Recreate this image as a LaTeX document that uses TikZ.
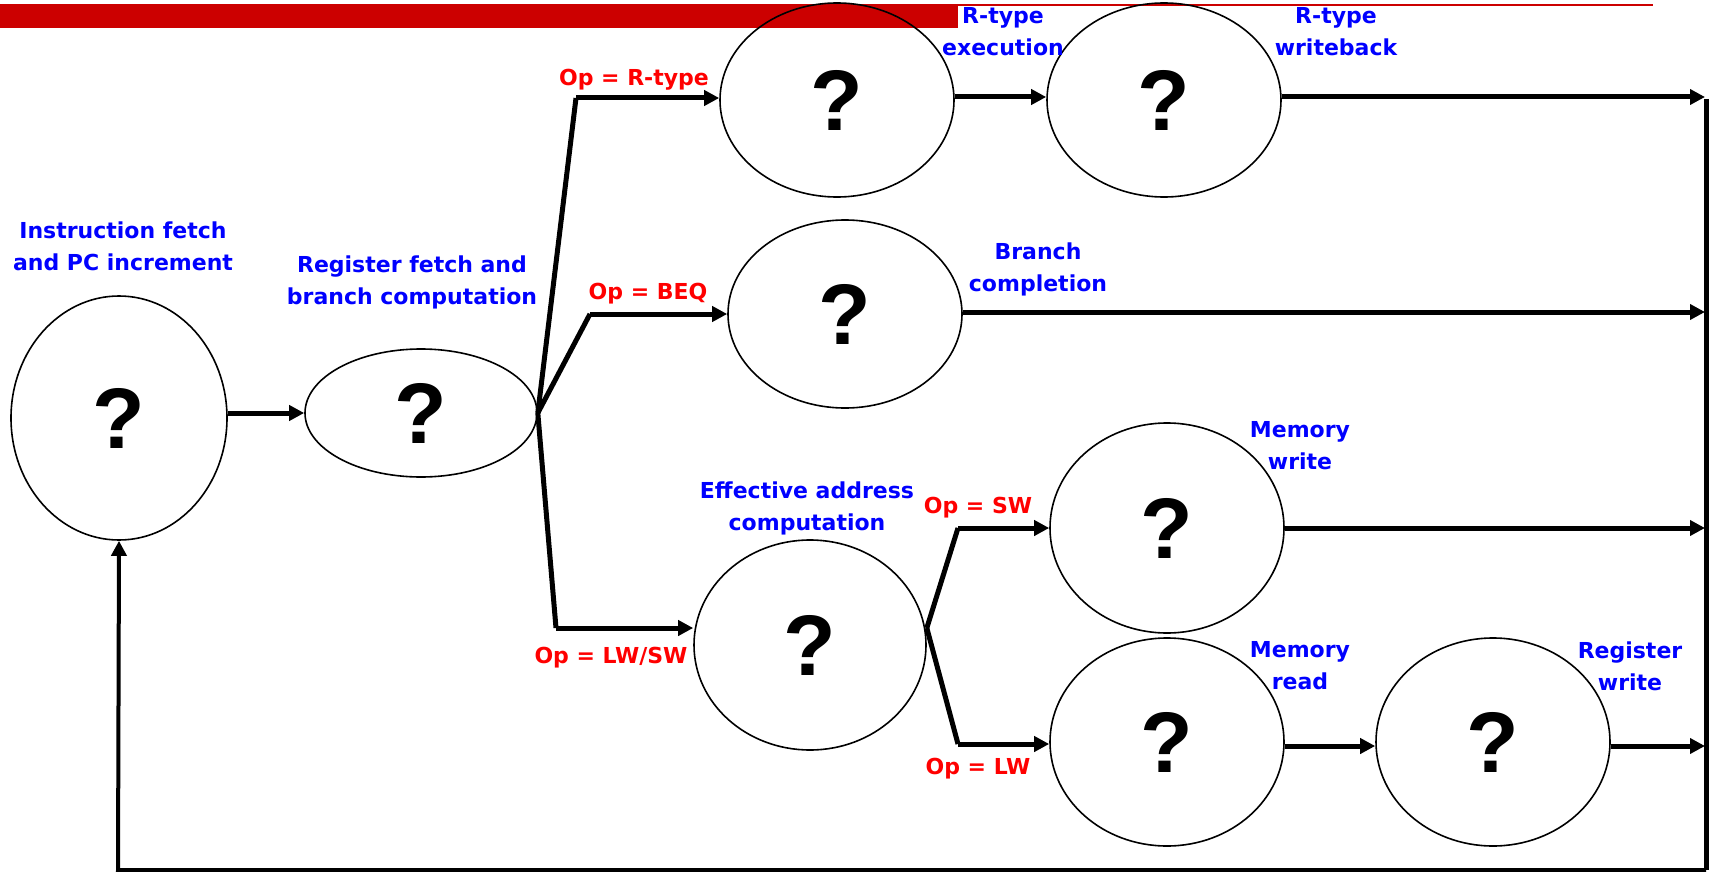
\documentclass[tikz,border=0pt]{standalone}
\usepackage{fontspec}
\setmainfont{DejaVu Sans}
\newfontfamily\qfont{Liberation Sans}
\usetikzlibrary{arrows.meta,shapes.geometric}
\definecolor{barred}{RGB}{204,0,0}
\definecolor{lblue}{RGB}{0,0,255}
\definecolor{lred}{RGB}{255,0,0}
\tikzset{
  state/.style={draw=black,line width=1.6pt,ellipse,inner sep=0pt,
     font=\qfont\bfseries\fontsize{86}{86}\selectfont},
  wire/.style={line width=5pt},
  arr/.style={line width=5pt,-{Triangle[length=15pt,width=15pt]}},
  blab/.style={text=lblue,font=\bfseries\fontsize{22}{32}\selectfont,align=center,inner sep=0pt},
  rlab/.style={text=lred,font=\bfseries\fontsize{22}{26}\selectfont,inner sep=0pt},
}
\begin{document}
\begin{tikzpicture}[x=1pt,y=-1pt]
\useasboundingbox (0,0) rectangle (1710,872);
% header bars
\fill[barred] (0,4) rectangle (958,28);
\fill[barred] (958,4) rectangle (1653,6.5);

% states
\node[state,minimum width=216pt,minimum height=244pt] (e1) at (119,418) {?};
\node[state,minimum width=232pt,minimum height=128pt] (e2) at (421,413) {?};
\node[state,minimum width=234pt,minimum height=194pt] (e3) at (837,100) {?};
\node[state,minimum width=234pt,minimum height=194pt] (e4) at (1164,100) {?};
\node[state,minimum width=234pt,minimum height=188pt] (e5) at (845,314) {?};
\node[state,minimum width=232pt,minimum height=210pt] (e6) at (810,645) {?};
\node[state,minimum width=234pt,minimum height=210pt] (e7) at (1167,528) {?};
\node[state,minimum width=234pt,minimum height=208pt] (e8) at (1167,742) {?};
\node[state,minimum width=234pt,minimum height=208pt] (e9) at (1493,742) {?};

% labels
\node[blab] (l1) at (123,246) {Instruction fetch\\and PC increment};
\node[blab] (l2) at (412,282) {Register fetch and\\branch computation};
\node[blab] (l3) at (1003,32) {R-type\\execution};
\node[blab] (l4) at (1336,32) {R-type\\writeback};
\node[blab] (l5) at (1038,269) {Branch\\completion};
\node[blab] (l6) at (807,508) {Effective address\\computation};
\node[blab] (l7) at (1300,446) {Memory\\write};
\node[blab] (l8) at (1300,666) {Memory\\read};
\node[blab] (l9) at (1630,666) {Register\\write};

\node[rlab] (o1) at (634,80) {Op = R-type};
\node[rlab] (o2) at (648,294) {Op = BEQ};
\node[rlab] (o3) at (611,658) {Op = LW/SW};
\node[rlab] (o4) at (978,508) {Op = SW};
\node[rlab] (o5) at (978,769) {Op = LW};

% corner coordinates
\coordinate (c1) at (576,98);
\coordinate (c2) at (590,314);
\coordinate (c3) at (556,628);
\coordinate (c4) at (958,528);
\coordinate (c5) at (958,744);
\coordinate (b1) at (1705,97);
\coordinate (b2) at (1705,312);
\coordinate (b3) at (1705,528);
\coordinate (b4) at (1705,746);
\coordinate (bt) at (1706,99);
\coordinate (bb) at (1706,870);
\coordinate (bl) at (118,870);

% connectors
\draw[arr] (e1.east |- e2.west) -- (e2.west);
\draw[wire] (e2.east) -- (c1);
\draw[arr] (c1) -- (e3.west |- c1);
\draw[wire] (e2.east) -- (c2);
\draw[arr] (c2) -- (e5.west |- c2);
\draw[wire] (e2.east) -- (c3);
\draw[arr] (c3) -- (e6.west |- c3);
\draw[arr] (e3.east |- b1) -- (e4.west |- b1);
\draw[arr] (e4.east |- b1) -- (b1);
\draw[arr] (e5.east |- b2) -- (b2);
\draw[wire] (e6.east |- c3) -- (c4);
\draw[arr] (c4) -- (e7.west |- c4);
\draw[wire] (e6.east |- c3) -- (c5);
\draw[arr] (c5) -- (e8.west |- c5);
\draw[arr] (e7.east) -- (b3);
\draw[arr] (e8.east |- b4) -- (e9.west |- b4);
\draw[arr] (e9.east |- b4) -- (b4);
\draw[line width=5pt] (bt) -- (bb);
\draw[line width=4pt,-{Triangle[length=15pt,width=15pt]}] (bb) -- (bl) -- (e1.south);
\end{tikzpicture}
\end{document}
